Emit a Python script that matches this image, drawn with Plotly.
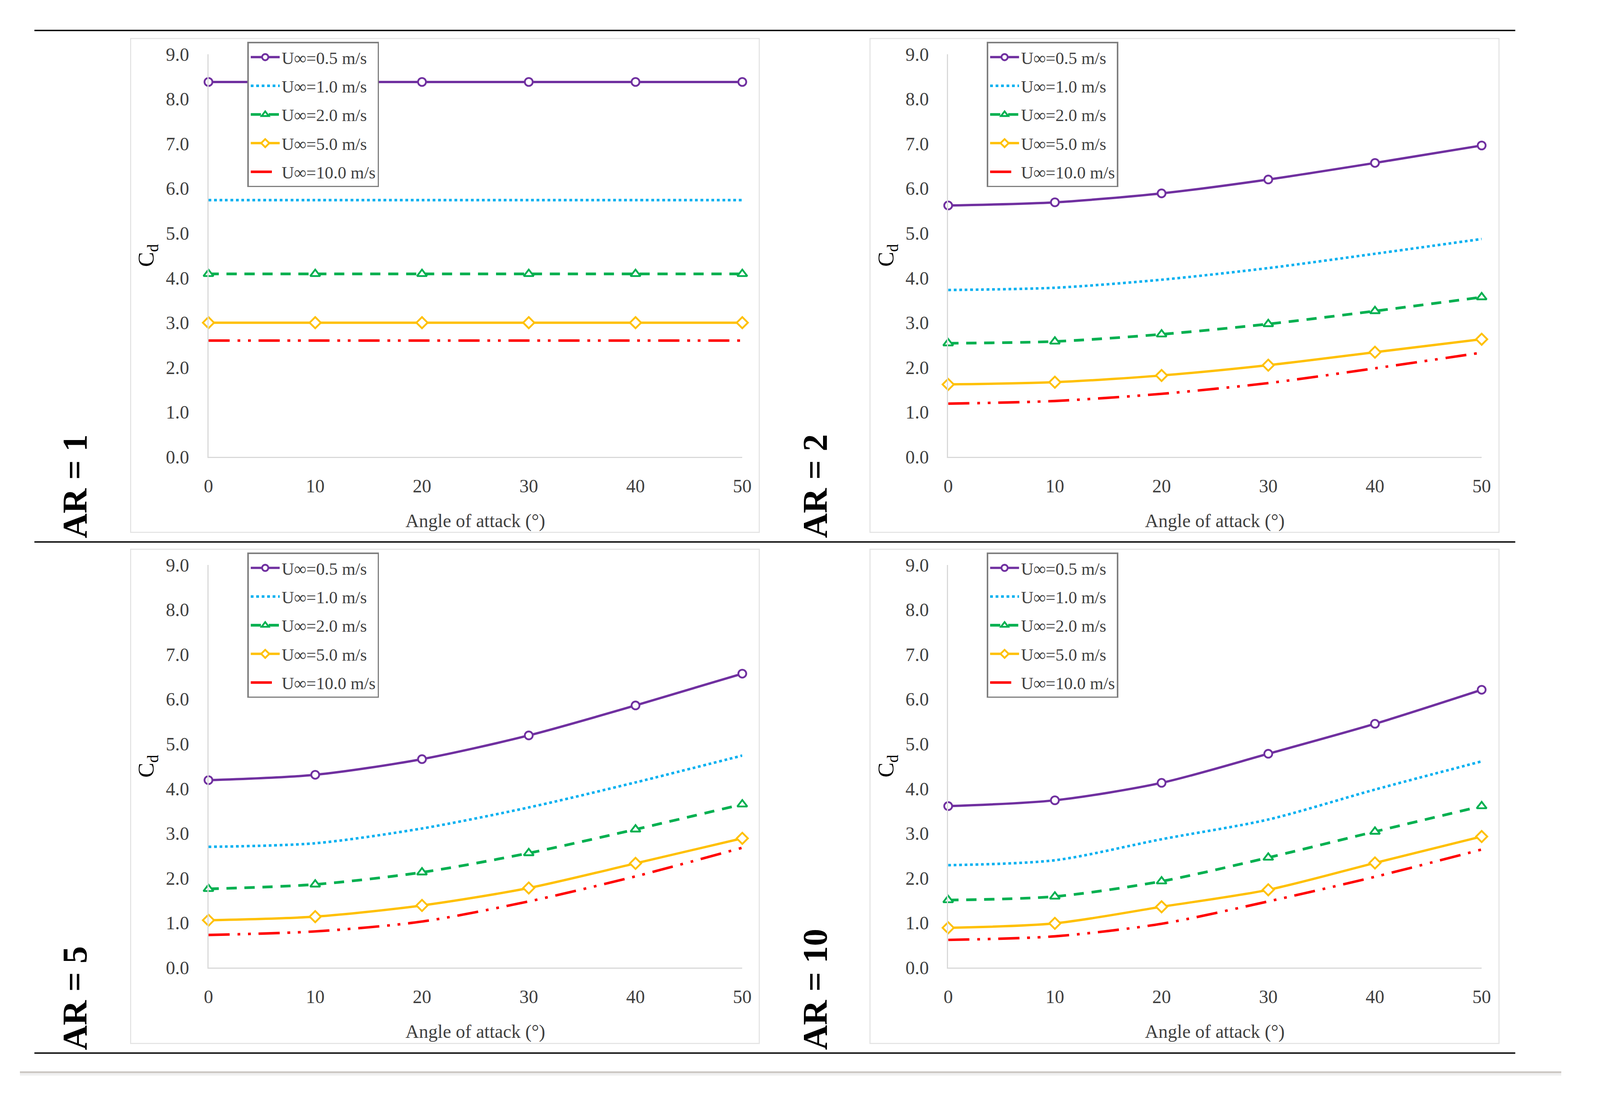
import plotly.graph_objects as go

W, H = 4483, 2830
K = 0.92  # css-px to device-px compensation for sizes

# ---------------- data ----------------
angles = [0, 10, 20, 30, 40, 50]
series_names = ["U∞=0.5 m/s", "U∞=1.0 m/s", "U∞=2.0 m/s", "U∞=5.0 m/s", "U∞=10.0 m/s"]
panel_labels = ["AR = 1", "AR = 2", "AR = 5", "AR = 10"]
x_ticks = [0, 10, 20, 30, 40, 50]
y_ticks = [0.0, 1.0, 2.0, 3.0, 4.0, 5.0, 6.0, 7.0, 8.0, 9.0]
x_title = "Angle of attack (°)"
y_title = "C<sub>d</sub>"

ar1_u05 = [8.38, 8.38, 8.38, 8.38, 8.38, 8.38]
ar1_u10 = [5.74, 5.74, 5.74, 5.74, 5.74, 5.74]
ar1_u20 = [4.09, 4.09, 4.09, 4.09, 4.09, 4.09]
ar1_u50 = [3.00, 3.00, 3.00, 3.00, 3.00, 3.00]
ar1_u100 = [2.60, 2.60, 2.60, 2.60, 2.60, 2.60]

ar2_u05 = [5.62, 5.69, 5.89, 6.20, 6.57, 6.96]
ar2_u10 = [3.73, 3.78, 3.96, 4.22, 4.54, 4.87]
ar2_u20 = [2.54, 2.58, 2.74, 2.97, 3.26, 3.57]
ar2_u50 = [1.62, 1.67, 1.82, 2.05, 2.34, 2.63]
ar2_u100 = [1.19, 1.25, 1.41, 1.65, 1.98, 2.33]

ar5_u05 = [4.19, 4.31, 4.66, 5.19, 5.86, 6.57]
ar5_u10 = [2.70, 2.78, 3.11, 3.58, 4.14, 4.74]
ar5_u20 = [1.76, 1.86, 2.13, 2.56, 3.09, 3.65]
ar5_u50 = [1.06, 1.14, 1.39, 1.78, 2.33, 2.89]
ar5_u100 = [0.73, 0.81, 1.03, 1.48, 2.04, 2.68]

ar10_u05 = [3.61, 3.74, 4.13, 4.78, 5.45, 6.21]
ar10_u10 = [2.29, 2.40, 2.87, 3.31, 3.98, 4.61]
ar10_u20 = [1.51, 1.59, 1.93, 2.46, 3.04, 3.61]
ar10_u50 = [0.89, 0.99, 1.36, 1.74, 2.34, 2.93]
ar10_u100 = [0.62, 0.70, 0.98, 1.48, 2.03, 2.64]

panels_data = [
    [ar1_u05, ar1_u10, ar1_u20, ar1_u50, ar1_u100],
    [ar2_u05, ar2_u10, ar2_u20, ar2_u50, ar2_u100],
    [ar5_u05, ar5_u10, ar5_u20, ar5_u50, ar5_u100],
    [ar10_u05, ar10_u10, ar10_u20, ar10_u50, ar10_u100],
]

# ---------------- styles ----------------
FONT = "Liberation Serif, Times New Roman, serif"
colors = ["#7030A0", "#00B0F0", "#00B050", "#FFC000", "#FF0000"]
dashes = ["solid", "7px,7px", "26px,20px", "solid", "54px,20px,7px,20px,7px,20px"]
widths = [6.5, 7, 7.5, 6.5, 7]
symbols = ["circle", None, "triangle-up", "diamond", None]
msizes = [22, 0, 24, 24, 0]


def fx(p):
    return p / W


def fy(p):
    return 1 - p / H


def s(v):
    return round(v * K, 2)


def si(v):
    return int(round(v * K))


# plot-area pixel boxes (x0, x1, ytop, ybottom)
boxes = [
    (576, 2085, 115, 1166),
    (2667, 4175, 115, 1166),
    (576, 2085, 1448, 2499),
    (2667, 4175, 1448, 2499),
]
borders = [
    (356, 2133, 74, 1363),
    (2446, 4224, 74, 1363),
    (356, 2133, 1407, 2697),
    (2446, 4224, 1407, 2697),
]
legend_pos = [(686, 83), (2776, 83), (686, 1416), (2776, 1416)]
ar_label_pos = [(198, 1380), (2290, 1380), (198, 2716), (2290, 2716)]

fig = go.Figure()
layout = dict(
    autosize=True,
    margin=dict(l=0, r=0, t=0, b=0, pad=0),
    paper_bgcolor="white", plot_bgcolor="white",
    font=dict(family=FONT, size=s(50), color="#404040"),
    shapes=[], annotations=[],
)

for i, data in enumerate(panels_data):
    n = "" if i == 0 else str(i + 1)
    xa, ya = "x" + n, "y" + n
    leg = "legend" + n
    for j, vals in enumerate(data):
        mode = "lines+markers" if symbols[j] else "lines"
        marker = dict(symbol=symbols[j], size=s(msizes[j]), color="white",
                      line=dict(color=colors[j], width=s(5))) if symbols[j] else None
        fig.add_trace(go.Scatter(
            x=angles, y=vals, name=series_names[j], mode=mode,
            xaxis=xa, yaxis=ya, legend=leg, legendgroup=f"g{i}{j}",
            line=dict(color=colors[j], width=s(widths[j]), dash=dashes[j],
                      shape="spline", smoothing=0.8),
            marker=marker, cliponaxis=False, showlegend=True,
        ))
    x0, x1, yt, yb = boxes[i]
    layout["xaxis" + n] = dict(
        domain=[fx(x0), fx(x1)], anchor=ya, range=[0, 50],
        tickvals=x_ticks, ticktext=[str(t) for t in x_ticks],
        showline=True, linecolor="#d9d9d9", linewidth=s(3),
        showgrid=False, zeroline=False, ticks="", ticklabelstandoff=si(34),
        tickfont=dict(size=s(52), color="#404040", family=FONT),
    )
    layout["yaxis" + n] = dict(
        domain=[fy(yb), fy(yt)], anchor=xa, range=[0, 9],
        tickvals=y_ticks, ticktext=[f"{t:.1f}" for t in y_ticks],
        showline=True, linecolor="#d9d9d9", linewidth=s(3),
        showgrid=False, zeroline=False, ticks="", ticklabelstandoff=si(40),
        tickfont=dict(size=s(52), color="#404040", family=FONT),
    )
    lx, ly = legend_pos[i]
    layout[leg] = dict(
        x=fx(lx), y=fy(ly), xanchor="left", yanchor="top",
        xref="paper", yref="paper",
        bgcolor="white", bordercolor="#7f7f7f", borderwidth=s(4),
        font=dict(size=s(48), color="#404040", family=FONT),
        itemwidth=si(80), tracegroupgap=13,
    )
    bx0, bx1, by0, by1 = borders[i]
    layout["shapes"].append(dict(
        type="rect", xref="paper", yref="paper",
        x0=fx(bx0), x1=fx(bx1), y0=fy(by1), y1=fy(by0),
        line=dict(color="#e3e3e3", width=s(3)), layer="below"))
    layout["annotations"].append(dict(
        text=x_title, xref="paper", yref="paper",
        x=fx((x0 + x1) / 2), y=fy(yb + 167), xanchor="center", yanchor="middle",
        showarrow=False, font=dict(size=s(52), color="#404040", family=FONT)))
    layout["annotations"].append(dict(
        text=y_title, xref="paper", yref="paper", textangle=-90,
        x=fx(x0 - 172), y=fy((yt + yb) / 2), xanchor="center", yanchor="middle",
        showarrow=False, font=dict(size=s(62), color="#000000", family=FONT)))
    ax_, ay_ = ar_label_pos[i]
    layout["annotations"].append(dict(
        text="<b>" + panel_labels[i] + "</b>", xref="paper", yref="paper", textangle=-90,
        x=fx(ax_), y=fy(ay_), xanchor="center", yanchor="bottom",
        showarrow=False, font=dict(size=s(96), color="#000000", family=FONT)))

for yy in [53, 1388, 2722]:
    layout["shapes"].append(dict(
        type="line", xref="paper", yref="paper",
        x0=fx(84), x1=fx(4270), y0=fy(yy), y1=fy(yy),
        line=dict(color="#000000", width=s(4))))
layout["shapes"].append(dict(
    type="line", xref="paper", yref="paper",
    x0=fx(43), x1=fx(4400), y0=fy(2772), y1=fy(2772),
    line=dict(color="#cbc7c3", width=s(5))))
layout["shapes"].append(dict(
    type="line", xref="paper", yref="paper",
    x0=fx(43), x1=fx(4400), y0=fy(2778), y1=fy(2778),
    line=dict(color="#f0f0f0", width=s(6))))

fig.update_layout(**layout)

post = (
    "document.documentElement.style.margin='0';"
    "document.documentElement.style.overflow='hidden';"
    "document.body.style.margin='0';"
    "document.body.style.overflow='hidden';"
    "var gd=document.getElementById('{plot_id}');"
    "gd.style.width='100vw';gd.style.height='100vh';"
    "Plotly.Plots.resize(gd);"
)
fig.write_html("out.html", config={"responsive": True, "displayModeBar": False},
               default_width="100vw", default_height="100vh", post_script=post)
